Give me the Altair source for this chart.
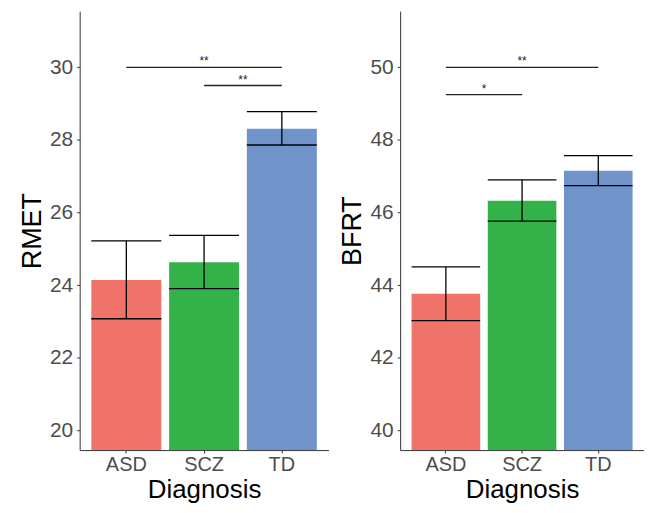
import math
import altair as alt
import pandas as pd

categories = ["ASD", "SCZ", "TD"]
colors = ["#F0736A", "#33B24A", "#7094C9"]

rmet_mean = [24.14, 24.63, 28.31]
rmet_lo = [23.07, 23.90, 27.86]
rmet_hi = [25.22, 25.37, 28.78]
rmet_sig_from = ["ASD", "SCZ"]
rmet_sig_to = ["TD", "TD"]
rmet_sig_y = [30.0, 29.5]
rmet_sig_label = ["**", "**"]
rmet_ticks = [20, 22, 24, 26, 28, 30]

bfrt_mean = [43.76, 46.32, 47.15]
bfrt_lo = [43.02, 45.76, 46.74]
bfrt_hi = [44.50, 46.90, 47.57]
bfrt_sig_from = ["ASD", "ASD"]
bfrt_sig_to = ["TD", "SCZ"]
bfrt_sig_y = [50.0, 49.25]
bfrt_sig_label = ["**", "*"]
bfrt_ticks = [40, 42, 44, 46, 48, 50]

PAD_IN = 0.1
PAD_OUT = 0.15
FONT = "Liberation Sans"


def panel(title, means, lo, hi, sig_from, sig_to, sig_y, sig_label, ymin, ymax, ticks, width, height):
    span = ymax - ymin
    domain = [ymin - 0.05 * span, ymax + 0.05 * span]
    df = pd.DataFrame({"Diagnosis": categories, "value": means, "lo": lo, "hi": hi})
    step = width / (len(categories) - PAD_IN + 2 * PAD_OUT)

    xscale = alt.Scale(domain=categories, paddingInner=PAD_IN, paddingOuter=PAD_OUT)
    yscale = alt.Scale(domain=domain, zero=False, nice=False)

    bars = alt.Chart(df).mark_bar(clip=True).encode(
        x=alt.X("Diagnosis:N", scale=xscale, sort=categories,
                axis=alt.Axis(title="Diagnosis", labelAngle=0)),
        y=alt.Y("value:Q", scale=yscale, axis=alt.Axis(title=title, values=ticks, grid=False)),
        color=alt.Color("Diagnosis:N", scale=alt.Scale(domain=categories, range=colors), legend=None),
    )
    vline = alt.Chart(df).mark_rule(color="black", strokeWidth=1.3).encode(
        x=alt.X("Diagnosis:N"), y=alt.Y("lo:Q"), y2="hi:Q"
    )
    cap_lo = alt.Chart(df).mark_rule(color="black", strokeWidth=1.3).encode(
        x=alt.X("Diagnosis:N", bandPosition=0),
        x2=alt.X2("Diagnosis", bandPosition=1),
        y=alt.Y("lo:Q"),
    )
    cap_hi = alt.Chart(df).mark_rule(color="black", strokeWidth=1.3).encode(
        x=alt.X("Diagnosis:N", bandPosition=0),
        x2=alt.X2("Diagnosis", bandPosition=1),
        y=alt.Y("hi:Q"),
    )

    sig = pd.DataFrame({"from": sig_from, "to": sig_to, "y": sig_y, "label": sig_label})
    sig_rule = alt.Chart(sig).mark_rule(color="#222", strokeWidth=1.3).encode(
        x=alt.X("from:N"), x2="to:N", y=alt.Y("y:Q")
    )
    layers = [bars, vline, cap_lo, cap_hi, sig_rule]
    # significance labels at midpoint between compared groups
    for f, t, yv, lab in zip(sig_from, sig_to, sig_y, sig_label):
        mid = (categories.index(f) + categories.index(t)) / 2
        anchor = categories[int(math.floor(mid))]
        frac = mid - math.floor(mid)
        tdf = pd.DataFrame({"Diagnosis": [anchor], "y": [yv], "label": [lab]})
        layers.append(
            alt.Chart(tdf).mark_text(fontSize=12, color="#222", baseline="alphabetic",
                                     dy=-2, dx=frac * step, font=FONT).encode(
                x=alt.X("Diagnosis:N"), y=alt.Y("y:Q"), text="label:N"
            )
        )
    return alt.layer(*layers).properties(width=width, height=height)


left = panel("RMET", rmet_mean, rmet_lo, rmet_hi, rmet_sig_from, rmet_sig_to, rmet_sig_y,
             rmet_sig_label, 20, 31, rmet_ticks, 250, 441)
right = panel("BFRT", bfrt_mean, bfrt_lo, bfrt_hi, bfrt_sig_from, bfrt_sig_to, bfrt_sig_y,
              bfrt_sig_label, 40, 51, bfrt_ticks, 245, 441)

chart = (
    alt.hconcat(left, right, spacing=10)
    .properties(padding={"left": 10, "top": 2, "right": 0, "bottom": 0}, background="white")
    .configure_view(stroke=None)
    .configure_axis(
        domainColor="#333", tickColor="#333", tickSize=3, grid=False,
        labelFont=FONT, titleFont=FONT, labelColor="#4D4D4D", titleColor="black",
        titleFontWeight="normal",
    )
    .configure_axisY(labelFontSize=21, labelPadding=4, titleFontSize=27, titlePadding=3)
    .configure_axisX(labelFontSize=20, labelPadding=2, titleFontSize=26, titlePadding=2)
)

chart.save("out.html", embed_options={"renderer": "svg", "actions": False})
